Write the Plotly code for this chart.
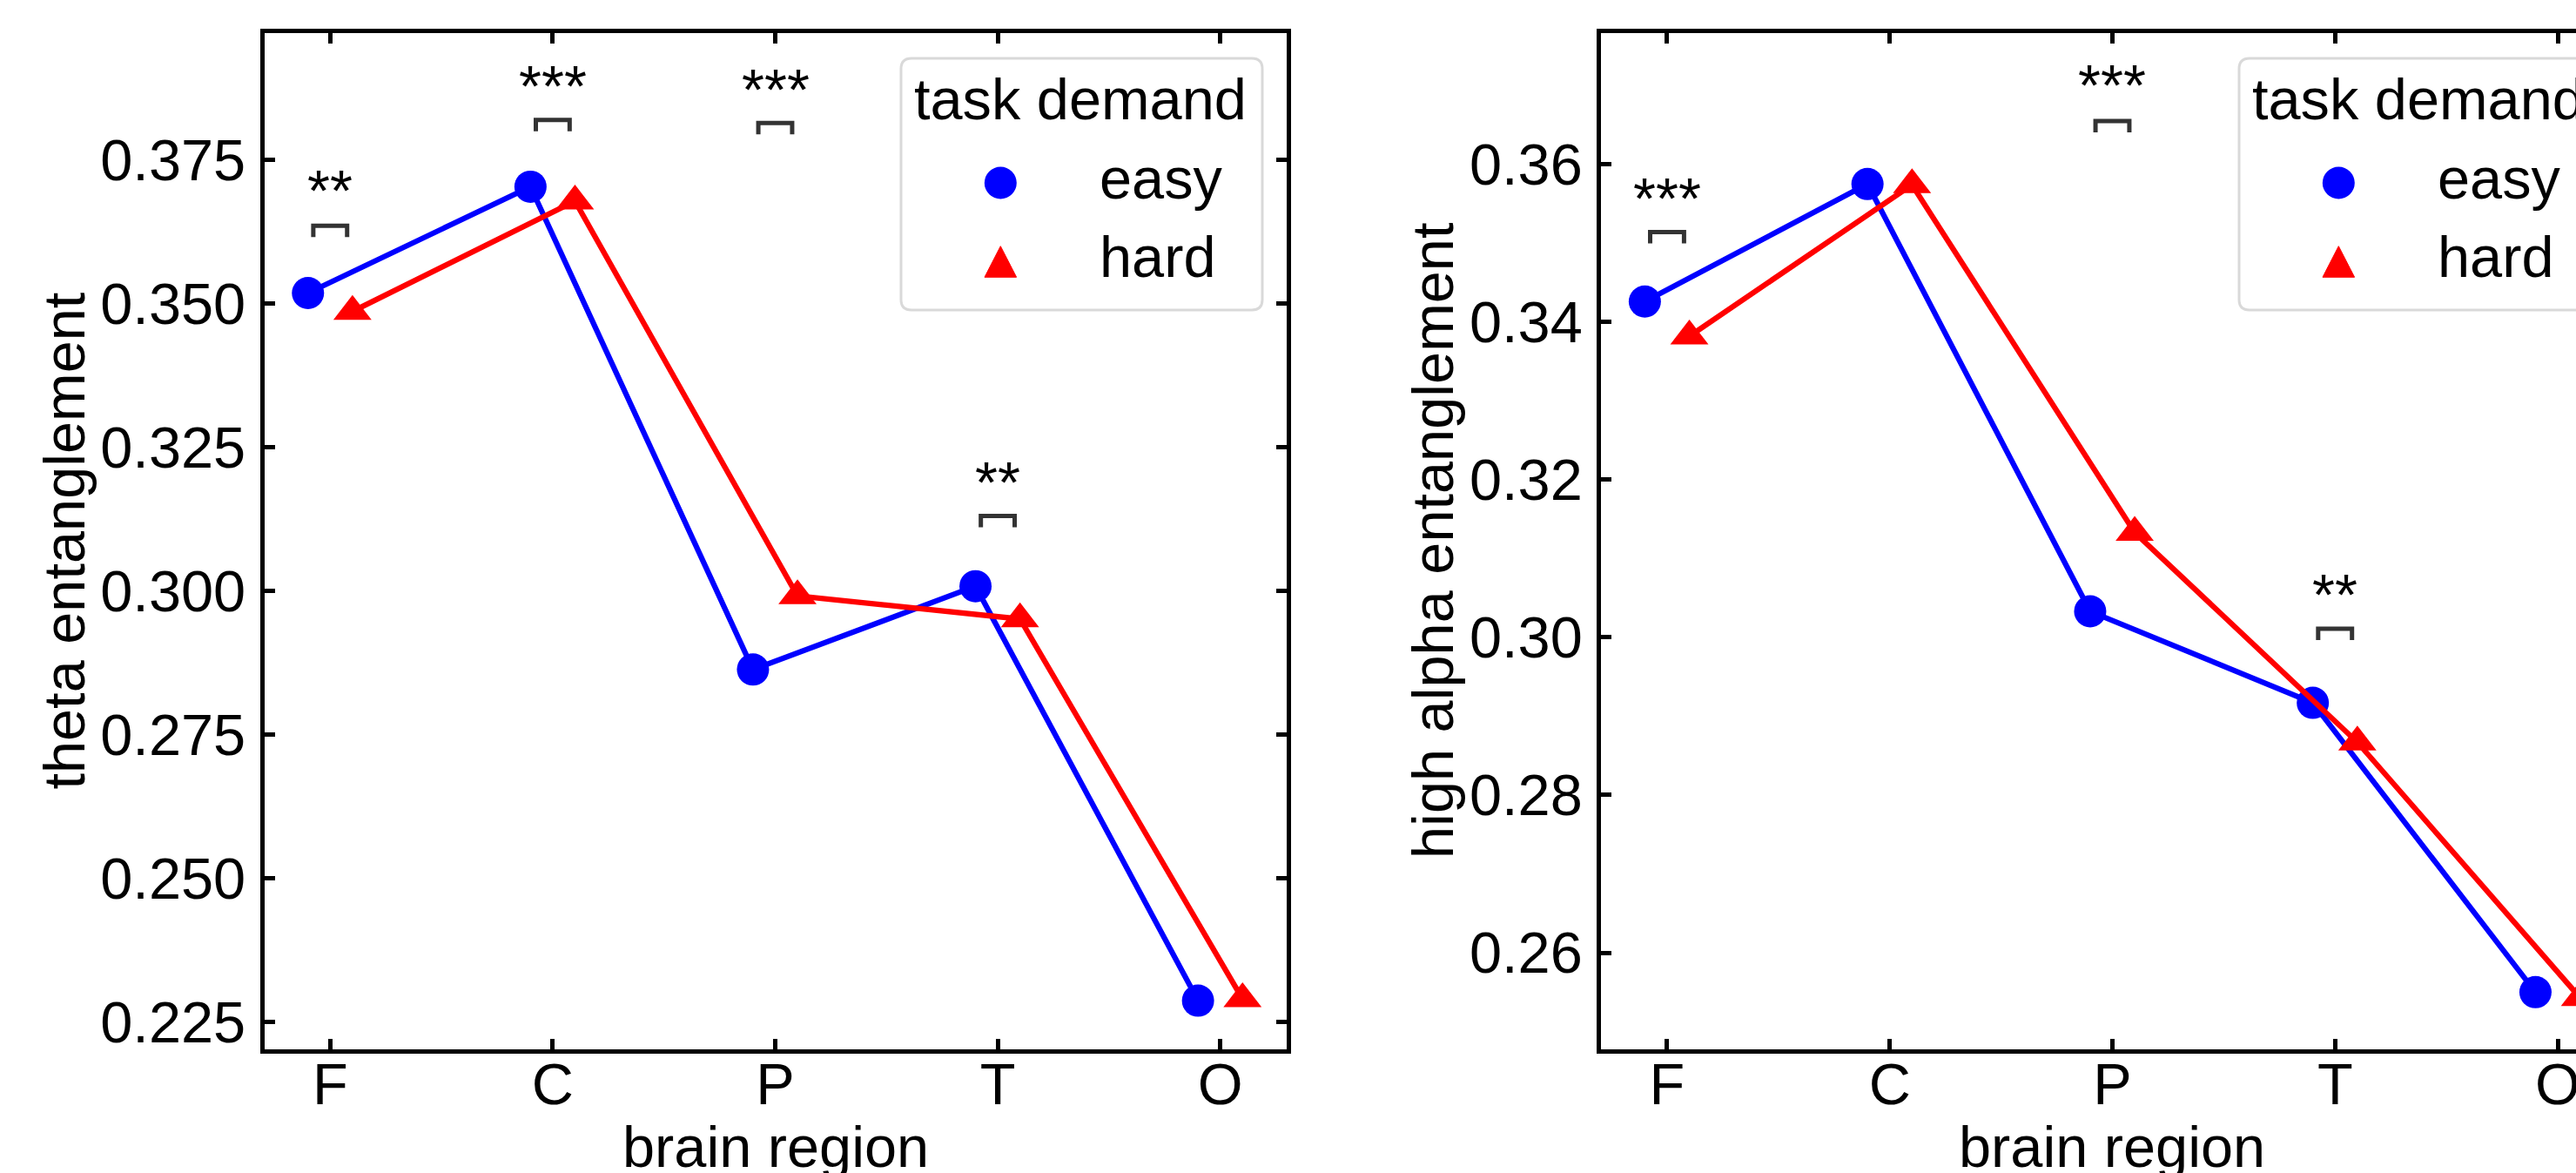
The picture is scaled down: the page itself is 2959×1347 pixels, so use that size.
import plotly.graph_objects as go

W, H = 2959, 1347
FONT = "Liberation Sans, Arial, Helvetica, sans-serif"
FS = 66.7

# ---------------- data ----------------
regions = ["F", "C", "P", "T", "O"]
theta_easy = [0.3518, 0.3703, 0.2863, 0.3008, 0.2287]
theta_hard = [0.3486, 0.3678, 0.2991, 0.2951, 0.2290]
alpha_easy = [0.3426, 0.3575, 0.3033, 0.2917, 0.2550]
alpha_hard = [0.3382, 0.3574, 0.3133, 0.2867, 0.2543]

# significance markers (region index, stars, bracket top value, star centre value)
theta_sig_idx = [0, 1, 2, 3]
theta_sig_txt = ["**", "***", "***", "**"]
theta_br_top = [0.3635, 0.3819, 0.3814, 0.3130]
theta_star_y = [0.3720, 0.3902, 0.3896, 0.3212]

alpha_sig_idx = [0, 2, 3]
alpha_sig_txt = ["***", "***", "**"]
alpha_br_top = [0.3514, 0.3655, 0.3011]
alpha_star_y = [0.3574, 0.3717, 0.3071]

y_titles = ["theta entanglement", "high alpha entanglement"]
x_title = "brain region"
legend_title = "task demand"
series_names = ["easy", "hard"]

# ---------------- styling / geometry ----------------
EASY_C = "#0000ff"
HARD_C = "#ff0000"
OFFSET = 0.1
BR_HALF = 0.076
BR_H = [0.00197, 0.00144]

PLOT_TOP, PLOT_BOT = 37.5, 1204.5
P1_L, P1_R = 303.5, 1477.5
P2_L, P2_R = 1839.1, W

x_ranges = [[-0.2966, 4.2966], [-0.2966, 4.082]]
y_ranges = [[0.2203, 0.3971], [0.2478, 0.3767]]


def pxx(x):
    return x / W


def pxy(y):
    return 1 - y / H


fig = go.Figure()

panels = [
    ("x", "y", theta_easy, theta_hard, theta_sig_idx, theta_sig_txt, theta_br_top, theta_star_y, BR_H[0]),
    ("x2", "y2", alpha_easy, alpha_hard, alpha_sig_idx, alpha_sig_txt, alpha_br_top, alpha_star_y, BR_H[1]),
]

shapes = []
annotations = []

for xa, ya, easy, hard, sidx, stxt, btop, sy, bh in panels:
    xs = list(range(len(regions)))
    fig.add_trace(go.Scatter(
        x=[i - OFFSET for i in xs], y=easy, mode="lines+markers",
        line=dict(color=EASY_C, width=6.25),
        marker=dict(symbol="circle", size=37, color=EASY_C),
        xaxis=xa, yaxis=ya, showlegend=False, name=series_names[0]))
    fig.add_trace(go.Scatter(
        x=[i + OFFSET for i in xs], y=hard, mode="lines+markers",
        line=dict(color=HARD_C, width=6.25),
        marker=dict(symbol="triangle-up", size=38, color=HARD_C),
        xaxis=xa, yaxis=ya, showlegend=False, name=series_names[1]))
    for i, t, top, s in zip(sidx, stxt, btop, sy):
        x0, x1 = i - BR_HALF, i + BR_HALF
        shapes.append(dict(
            type="path", xref=xa, yref=ya,
            path=f"M {x0},{top - bh} L {x0},{top} L {x1},{top} L {x1},{top - bh}",
            line=dict(color="#333333", width=5), layer="above"))
        annotations.append(dict(
            x=i, y=s, xref=xa, yref=ya, text=t, showarrow=False,
            font=dict(family=FONT, size=FS, color="black"),
            xanchor="center", yanchor="middle", yshift=-15.6))


def rrect_path(x0, y0, x1, y1, r):
    pts = [
        ("M", [(x0 + r, y0)]), ("L", [(x1 - r, y0)]), ("Q", [(x1, y0), (x1, y0 + r)]),
        ("L", [(x1, y1 - r)]), ("Q", [(x1, y1), (x1 - r, y1)]),
        ("L", [(x0 + r, y1)]), ("Q", [(x0, y1), (x0, y1 - r)]),
        ("L", [(x0, y0 + r)]), ("Q", [(x0, y0), (x0 + r, y0)]),
    ]
    s = ""
    for cmd, ps in pts:
        s += cmd + " " + " ".join(f"{pxx(a):.6f},{pxy(b):.6f}" for a, b in ps) + " "
    return s + "Z"


def add_legend(dx):
    shapes.append(dict(type="path", xref="paper", yref="paper",
                       path=rrect_path(1035 + dx, 67, 1450 + dx, 356, 12),
                       line=dict(color="#d9d9d9", width=3), fillcolor="white", layer="above"))
    # title
    annotations.append(dict(x=pxx(1241 + dx), y=pxy(137 - 23.1), xref="paper", yref="paper",
                            text=legend_title, showarrow=False, xanchor="center", yanchor="middle",
                            font=dict(family=FONT, size=FS, color="black")))
    # circle glyph
    cx, cy, r = 1149.3 + dx, 210, 18.5
    shapes.append(dict(type="circle", xref="paper", yref="paper",
                       x0=pxx(cx - r), x1=pxx(cx + r), y0=pxy(cy + r), y1=pxy(cy - r),
                       fillcolor=EASY_C, line=dict(width=0), layer="above"))
    # triangle glyph
    tx, ty_top, ty_bot, hw = 1149.3 + dx, 282.7, 318.3, 18.3
    shapes.append(dict(type="path", xref="paper", yref="paper",
                       path=f"M {pxx(tx - hw):.6f},{pxy(ty_bot):.6f} L {pxx(tx + hw):.6f},{pxy(ty_bot):.6f} "
                            f"L {pxx(tx):.6f},{pxy(ty_top):.6f} Z",
                       fillcolor=HARD_C, line=dict(color=HARD_C, width=1), layer="above"))
    for name, base in zip(series_names, [227.7, 318.3]):
        annotations.append(dict(x=pxx(1261 + dx), y=pxy(base - 23.1), xref="paper", yref="paper",
                                text=name, showarrow=False, xanchor="left", yanchor="middle",
                                font=dict(family=FONT, size=FS, color="black")))


add_legend(0)
add_legend(1537)

# axis titles
plot_mid_y = pxy((PLOT_TOP + PLOT_BOT) / 2)
for xa, ylab, xc in [("x", y_titles[0], 73.6), ("x2", y_titles[1], 1646)]:
    annotations.append(dict(x=2, y=pxy(1340 - 23.1), xref=xa, yref="paper", text=x_title,
                            showarrow=False, xanchor="center", yanchor="middle",
                            font=dict(family=FONT, size=FS, color="black")))
    annotations.append(dict(x=pxx(xc), y=plot_mid_y, xref="paper", yref="paper", text=ylab,
                            textangle=-90, showarrow=False, xanchor="center", yanchor="middle",
                            font=dict(family=FONT, size=FS, color="black")))

axis_common = dict(
    ticks="inside", ticklen=12, tickwidth=5, tickcolor="black",
    showline=True, linewidth=5, linecolor="black",
    showgrid=False, zeroline=False, automargin=False,
    tickfont=dict(family=FONT, size=FS, color="black"),
)

fig.update_layout(
    width=W, height=H, template="none",
    paper_bgcolor="white", plot_bgcolor="white",
    margin=dict(l=0, r=0, t=0, b=0, autoexpand=False),
    showlegend=False,
    xaxis=dict(domain=[pxx(P1_L), pxx(P1_R)], range=x_ranges[0], anchor="y", mirror="ticks",
               tickmode="array", tickvals=list(range(5)), ticktext=regions,
               ticklabelstandoff=-22, ticklabeloverflow="allow", **axis_common),
    xaxis2=dict(domain=[pxx(P2_L), 1.0], range=x_ranges[1], anchor="y2", mirror="ticks",
                tickmode="array", tickvals=list(range(5)), ticktext=regions,
                ticklabelstandoff=-22, ticklabeloverflow="allow", **axis_common),
    yaxis=dict(domain=[pxy(PLOT_BOT), pxy(PLOT_TOP)], range=y_ranges[0], anchor="x", mirror="ticks",
               tickmode="linear", tick0=0.225, dtick=0.025, tickformat=".3f",
               ticklabelstandoff=3, **axis_common),
    yaxis2=dict(domain=[pxy(PLOT_BOT), pxy(PLOT_TOP)], range=y_ranges[1], anchor="x2", mirror=False,
                tickmode="linear", tick0=0.26, dtick=0.02, tickformat=".2f",
                ticklabelstandoff=3, **axis_common),
    shapes=shapes,
    annotations=annotations,
)

fig.write_html("out.html", config={"displayModeBar": False},
               post_script="document.body.style.margin='0';document.body.style.overflow='hidden';")
